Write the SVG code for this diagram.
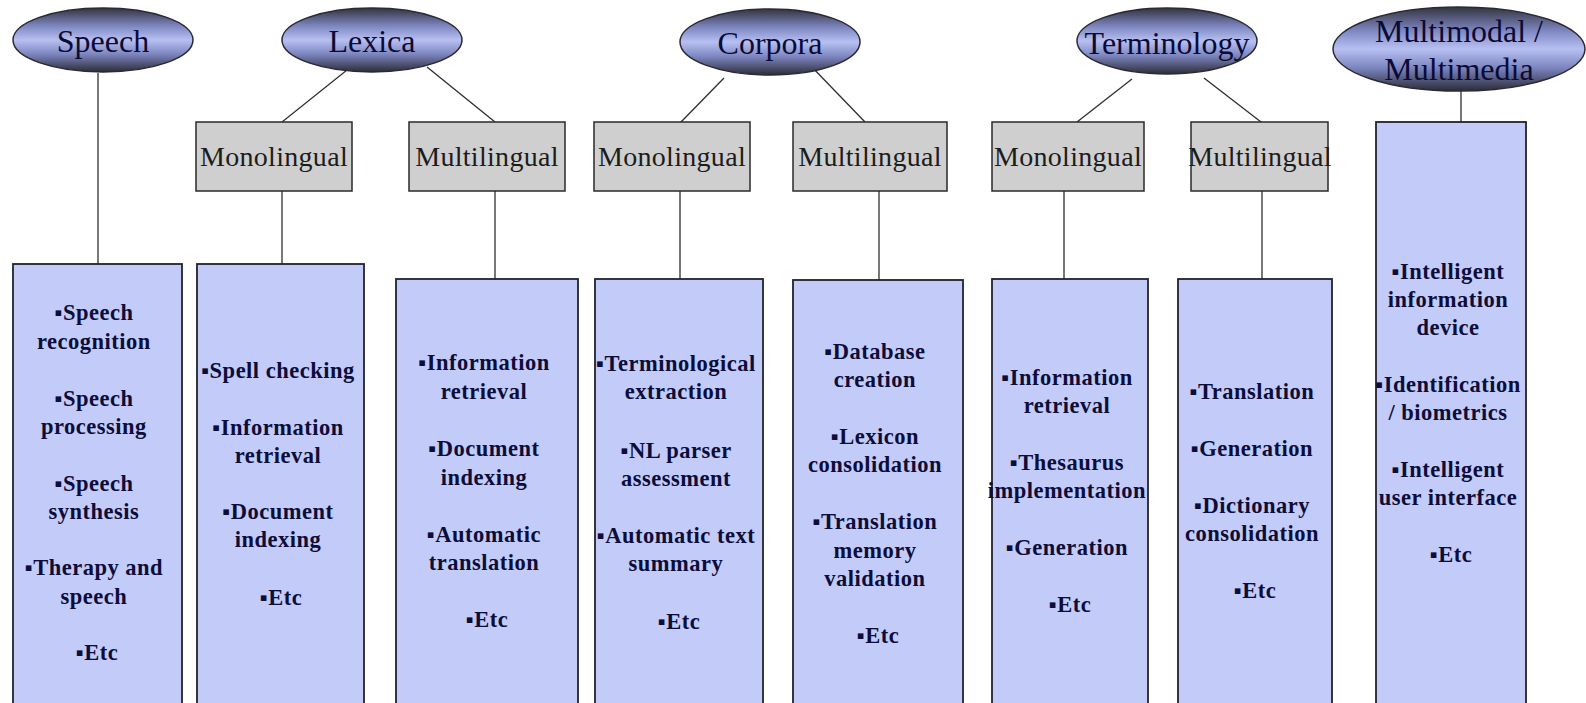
<svg xmlns="http://www.w3.org/2000/svg" width="1586" height="703" viewBox="0 0 1586 703">
<style>
.bg{fill:#ffffff}
.ell{fill:url(#eg);stroke:#2a2a35;stroke-width:1.5}
.gray{fill:#cfcfcf;stroke:#2a2a2a;stroke-width:1.5}
.blue{fill:#c3cbf8;stroke:#22222e;stroke-width:1.8}
.con{stroke:#2e2e2e;stroke-width:1.3;fill:none}
.et{font-family:"Liberation Serif","Times New Roman",serif;font-size:32px;fill:#0b0b35;text-anchor:middle}
.gt{font-family:"Liberation Serif","Times New Roman",serif;font-size:28px;fill:#1c1c1c;text-anchor:middle;letter-spacing:0.3px}
.bt{font-family:"Liberation Serif","Times New Roman","DejaVu Serif",serif;font-weight:bold;font-size:22.5px;fill:#0d0d3a;text-anchor:middle;letter-spacing:0.5px}
</style>
<defs>
<linearGradient id="eg" x1="0" y1="0" x2="0" y2="1">
<stop offset="0" stop-color="#34343f"/>
<stop offset="0.28" stop-color="#7d86c0"/>
<stop offset="0.5" stop-color="#b8c0f2"/>
<stop offset="0.72" stop-color="#7d86c0"/>
<stop offset="1" stop-color="#2c2c38"/>
</linearGradient>
</defs>
<rect class="bg" x="0" y="0" width="1586" height="703"/>

<g id="connectors">
<line class="con" x1="98" y1="73" x2="98" y2="264"/>
<line class="con" x1="352" y1="66" x2="282" y2="122"/>
<line class="con" x1="427" y1="67" x2="495" y2="122"/>
<line class="con" x1="282" y1="191" x2="282" y2="264"/>
<line class="con" x1="495" y1="191" x2="495" y2="279"/>
<line class="con" x1="724" y1="78" x2="681" y2="122"/>
<line class="con" x1="809" y1="64" x2="865" y2="122"/>
<line class="con" x1="680" y1="191" x2="680" y2="279"/>
<line class="con" x1="879" y1="191" x2="879" y2="280"/>
<line class="con" x1="1132" y1="79" x2="1077" y2="122"/>
<line class="con" x1="1204" y1="78" x2="1261" y2="122"/>
<line class="con" x1="1064" y1="191" x2="1064" y2="279"/>
<line class="con" x1="1262" y1="191" x2="1262" y2="279"/>
<line class="con" x1="1461" y1="91" x2="1461" y2="122"/>
</g>

<g id="speech">
<ellipse class="ell" cx="103" cy="40" rx="90" ry="32"/>
<text class="et" x="103" y="52">Speech</text>
</g>
<g id="lexica">
<ellipse class="ell" cx="372" cy="40" rx="90" ry="32"/>
<text class="et" x="372" y="52">Lexica</text>
</g>
<g id="corpora">
<ellipse class="ell" cx="770" cy="42" rx="90" ry="33"/>
<text class="et" x="770" y="54">Corpora</text>
</g>
<g id="terminology">
<ellipse class="ell" cx="1167" cy="41" rx="90" ry="33"/>
<text class="et" x="1167" y="54">Terminology</text>
</g>
<g id="multimodal">
<ellipse class="ell" cx="1459" cy="49" rx="126" ry="42"/>
<text class="et" x="1459" y="42">Multimodal /</text>
<text class="et" x="1459" y="80">Multimedia</text>
</g>

<g id="lexica-mono">
<rect class="gray" x="196" y="122" width="156" height="69"/>
<text class="gt" x="274" y="166">Monolingual</text>
</g>
<g id="lexica-multi">
<rect class="gray" x="409" y="122" width="156" height="69"/>
<text class="gt" x="487" y="166">Multilingual</text>
</g>
<g id="corpora-mono">
<rect class="gray" x="594" y="122" width="156" height="69"/>
<text class="gt" x="672" y="166">Monolingual</text>
</g>
<g id="corpora-multi">
<rect class="gray" x="793" y="122" width="154" height="69"/>
<text class="gt" x="870" y="166">Multilingual</text>
</g>
<g id="terminology-mono">
<rect class="gray" x="992" y="122" width="152" height="69"/>
<text class="gt" x="1068" y="166">Monolingual</text>
</g>
<g id="terminology-multi">
<rect class="gray" x="1191" y="122" width="137" height="69"/>
<text class="gt" x="1260" y="166">Multilingual</text>
</g>

<g id="speech-list">
<rect class="blue" x="13" y="264" width="169" height="440"/>
<text class="bt">
<tspan x="97" y="320">▪Speech</tspan>
<tspan x="97" y="349">recognition</tspan>
<tspan x="97" y="406">▪Speech</tspan>
<tspan x="97" y="434">processing</tspan>
<tspan x="97" y="491">▪Speech</tspan>
<tspan x="97" y="519">synthesis</tspan>
<tspan x="97" y="575">▪Therapy and</tspan>
<tspan x="97" y="604">speech</tspan>
<tspan x="97" y="660">▪Etc</tspan>
</text>
</g>
<g id="lexica-mono-list">
<rect class="blue" x="197" y="264" width="167" height="440"/>
<text class="bt">
<tspan x="281" y="378">▪Spell checking</tspan>
<tspan x="281" y="435">▪Information</tspan>
<tspan x="281" y="463">retrieval</tspan>
<tspan x="281" y="519">▪Document</tspan>
<tspan x="281" y="547">indexing</tspan>
<tspan x="281" y="605">▪Etc</tspan>
</text>
</g>
<g id="lexica-multi-list">
<rect class="blue" x="396" y="279" width="182" height="425"/>
<text class="bt">
<tspan x="487" y="370">▪Information</tspan>
<tspan x="487" y="399">retrieval</tspan>
<tspan x="487" y="456">▪Document</tspan>
<tspan x="487" y="485">indexing</tspan>
<tspan x="487" y="542">▪Automatic</tspan>
<tspan x="487" y="570">translation</tspan>
<tspan x="487" y="627">▪Etc</tspan>
</text>
</g>
<g id="corpora-mono-list">
<rect class="blue" x="595" y="279" width="168" height="425"/>
<text class="bt">
<tspan x="679" y="371">▪Terminological</tspan>
<tspan x="679" y="399">extraction</tspan>
<tspan x="679" y="458">▪NL parser</tspan>
<tspan x="679" y="486">assessment</tspan>
<tspan x="679" y="543">▪Automatic text</tspan>
<tspan x="679" y="571">summary</tspan>
<tspan x="679" y="629">▪Etc</tspan>
</text>
</g>
<g id="corpora-multi-list">
<rect class="blue" x="793" y="280" width="170" height="424"/>
<text class="bt">
<tspan x="878" y="359">▪Database</tspan>
<tspan x="878" y="387">creation</tspan>
<tspan x="878" y="444">▪Lexicon</tspan>
<tspan x="878" y="472">consolidation</tspan>
<tspan x="878" y="529">▪Translation</tspan>
<tspan x="878" y="558">memory</tspan>
<tspan x="878" y="586">validation</tspan>
<tspan x="878" y="643">▪Etc</tspan>
</text>
</g>
<g id="terminology-mono-list">
<rect class="blue" x="992" y="279" width="156" height="425"/>
<text class="bt">
<tspan x="1070" y="385">▪Information</tspan>
<tspan x="1070" y="413">retrieval</tspan>
<tspan x="1070" y="470">▪Thesaurus</tspan>
<tspan x="1070" y="498">implementation</tspan>
<tspan x="1070" y="555">▪Generation</tspan>
<tspan x="1070" y="612">▪Etc</tspan>
</text>
</g>
<g id="terminology-multi-list">
<rect class="blue" x="1178" y="279" width="154" height="425"/>
<text class="bt">
<tspan x="1255" y="399">▪Translation</tspan>
<tspan x="1255" y="456">▪Generation</tspan>
<tspan x="1255" y="513">▪Dictionary</tspan>
<tspan x="1255" y="541">consolidation</tspan>
<tspan x="1255" y="598">▪Etc</tspan>
</text>
</g>
<g id="multimodal-list">
<rect class="blue" x="1376" y="122" width="150" height="582"/>
<text class="bt">
<tspan x="1451" y="279">▪Intelligent</tspan>
<tspan x="1451" y="307">information</tspan>
<tspan x="1451" y="335">device</tspan>
<tspan x="1451" y="392">▪Identification</tspan>
<tspan x="1451" y="420">/ biometrics</tspan>
<tspan x="1451" y="477">▪Intelligent</tspan>
<tspan x="1451" y="505">user interface</tspan>
<tspan x="1451" y="562">▪Etc</tspan>
</text>
</g>
</svg>
